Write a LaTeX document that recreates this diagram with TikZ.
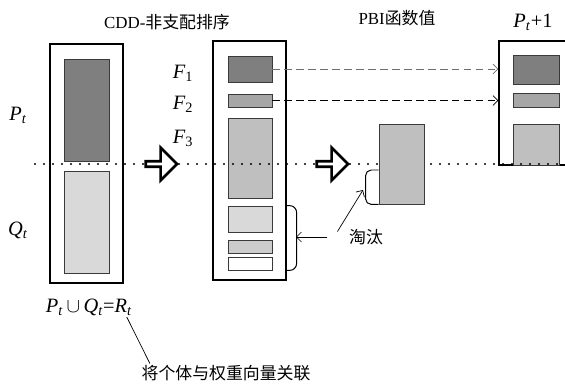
\documentclass[tikz,border=0pt]{standalone}
\usepackage{fontspec}
\setmainfont{Liberation Serif}
\newfontfamily\cjk{Noto Sans CJK SC}
\usepackage{tikz}
\usetikzlibrary{arrows.meta,positioning,fit,shapes.arrows}
\definecolor{ink}{HTML}{000000}
\definecolor{edge}{HTML}{3A3A3A}
\definecolor{darkfill}{HTML}{7F7F7F}
\definecolor{midfill}{HTML}{A6A6A6}
\definecolor{lightfill}{HTML}{BFBFBF}
\definecolor{palefill}{HTML}{D9D9D9}
\definecolor{dashgray}{HTML}{6E6E6E}
\newcommand{\vr}[2]{\textit{#1}\textsubscript{\textit{#2}}}

\begin{document}
\begin{tikzpicture}[x=0.025cm,y=-0.025cm,
  pop/.style={draw=ink,line width=0.9pt,inner sep=0pt},
  blk/.style={draw=edge,line width=0.6pt,inner sep=0pt},
  lbl/.style={font=\fontsize{14.5}{16}\selectfont,inner sep=1pt},
  ttl/.style={font=\fontsize{12}{14}\selectfont,inner sep=1pt},
  cn/.style={font=\fontsize{12}{14}\selectfont\cjk,inner sep=1pt},
  hollow/.style={single arrow,draw=ink,line width=1.9pt,fill=white,inner sep=0pt,
    minimum height=0.78cm,minimum width=0.82cm,single arrow head extend=0.16cm},
  tip/.style={-{Straight Barb[length=3.5pt,width=7pt]},line width=0.5pt},
  dots/.style={line width=1.5pt,line cap=round,dash pattern=on 0pt off 6.4pt}
]
  \useasboundingbox (0,0) rectangle (565,386);
  \clip (0,0) rectangle (565,386);
  \node[pop,fit={(50,44)(123,283)}] (R) {};
  \node[blk,fill=darkfill,fit={(64,59)(109,161)}] (P) {};
  \node[blk,fill=palefill,fit={(64,171)(109,273)}] (Q) {};
  \node[pop,fit={(213,41)(286,280)}] (S) {};
  \node[blk,fill=darkfill,fit={(228,56)(272,82)}] (f1) {};
  \node[blk,fill=midfill,fit={(228,94)(272,107)}] (f2) {};
  \node[blk,fill=lightfill,fit={(228,118)(272,198)}] (f3) {};
  \node[blk,fill=palefill,fit={(228,206)(272,232)}] (f4) {};
  \node[blk,fill=palefill!85!gray,fit={(228,240)(272,253)}] (f5) {};
  \node[blk,fill=white,fit={(228,257)(272,270)}] (f6) {};
  \node[pop,fit={(499,41)(580,165)}] (N) {};
  \node[blk,fill=darkfill,fit={(513,55)(559,84)}] (n1) {};
  \node[blk,fill=midfill,fit={(513,93)(559,107)}] (n2) {};
  \node[blk,fill=lightfill,fit={(513,124)(559,165)}] (n3) {};
  \draw[dots] (35,164) -- (565,164);
  \node[blk,fill=lightfill,fit={(379,124)(424,204)}] (pbi) {};
  \node[hollow] (go1) at (160,164) {};
  \node[hollow] (go2) at (331,164) {};

  \node[ttl] (t1) at (167,22) {CDD-{\cjk 非支配排序}};
  \node[ttl] (t2) at (397,18) {PBI{\cjk 函数值}};
  \node[lbl] (t3) at (533,22) {\vr{P}{t}+1};
  \node[lbl] (lp) at (18,115) {\vr{P}{t}};
  \node[lbl] (lq) at (18,230) {\vr{Q}{t}};
  \node[lbl] (l1) at (183,73) {\textit{F}\textsubscript{1}};
  \node[lbl] (l2) at (183,104) {\textit{F}\textsubscript{2}};
  \node[lbl] (l3) at (183,138) {\textit{F}\textsubscript{3}};

  \draw[tip,dash pattern=on 5.5pt off 3pt,draw=dashgray] (f1.east) -- (f1.east -| N.west);
  \draw[tip,dash pattern=on 5.5pt off 3pt] (f2.east) -- (f2.east -| N.west);

  \draw[line width=0.7pt,rounded corners=5pt] (f4.north -| S.east) -- ++(10,0) |- (f6.south -| S.east);
  \draw[line width=0.7pt,rounded corners=4pt] (pbi.south west |- 0,170) -- ++(-13,0) |- (pbi.south west);
  \coordinate (cutA) at (296,237);
  \coordinate (cutB) at (363,190);
  \node[cn] (cut) at (366,237) {淘汰};
  \draw[tip] ([xshift=-0.5cm]cut.west) -- (cutA);
  \draw[tip] ([xshift=-0.25cm,yshift=-0.1cm]cut.north west) -- (cutB);

  \node[lbl] (union) at (89,307) {\vr{P}{t}\,$\cup$\,\vr{Q}{t}=\vr{R}{t}};
  \node[cn,anchor=west] (assoc) at (140,373) {将个体与权重向量关联};
  \draw[line width=0.5pt] ([xshift=-5pt]union.south east) -- ([xshift=7pt]assoc.north west);
\end{tikzpicture}
\end{document}
